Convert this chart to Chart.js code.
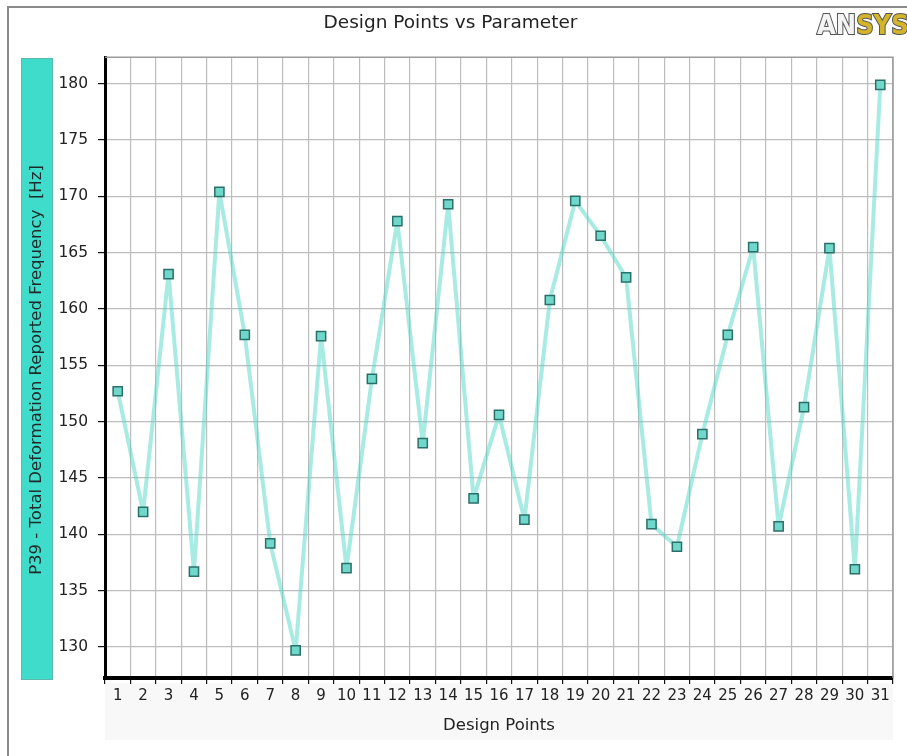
<!DOCTYPE html>
<html>
<head>
<meta charset="utf-8">
<script src="https://cdn.jsdelivr.net/npm/chart.js@4"></script>
<style>
  html, body { margin: 0; padding: 0; background: #fff; }
  #wrap { width: 907px; height: 756px; }
</style>
</head>
<body>
<div id="wrap"><canvas id="js--chart--1" width="907" height="756"></canvas></div>
<script>
const designPoints = [
    "1", "2", "3", "4", "5", "6", "7", "8", "9", "10",
    "11", "12", "13", "14", "15", "16", "17", "18", "19", "20",
    "21", "22", "23", "24", "25", "26", "27", "28", "29", "30", "31"
];

const frequency = [
    152.7, 142.0, 163.1, 136.7, 170.4, 157.7, 139.2, 129.7, 157.6, 137.0,
    153.8, 167.8, 148.1, 169.3, 143.2, 150.6, 141.3, 160.8, 169.6, 166.5,
    162.8, 140.9, 138.9, 148.9, 157.7, 165.5, 140.7, 151.3, 165.4, 136.9, 179.9
];

const yTitle = "P39 - Total Deformation Reported Frequency  [Hz]";
const chartTitle = "Design Points vs Parameter";

Chart.defaults.font.family = "'DejaVu Sans', sans-serif";
Chart.defaults.color = "#222";

// frame, y title box, logo, plot border
const decorations = {
    id: 'decorations',
    beforeDraw(chart) {
        const ctx = chart.ctx;
        const a = chart.chartArea;
        ctx.save();
        ctx.strokeStyle = '#8a8a8a';
        ctx.lineWidth = 2;
        ctx.strokeRect(8, 7, 920, 800);
        // faint band behind x labels
        ctx.fillStyle = '#f8f8f8';
        ctx.fillRect(a.left, a.bottom + 5, a.right - a.left, 57);
        ctx.restore();
    },
    afterDraw(chart) {
        const ctx = chart.ctx;
        const a = chart.chartArea;
        ctx.save();
        // top + right border of plot
        ctx.strokeStyle = '#9a9a9a';
        ctx.lineWidth = 1.5;
        ctx.beginPath();
        ctx.moveTo(a.left, a.top);
        ctx.lineTo(a.right, a.top);
        ctx.lineTo(a.right, a.bottom);
        ctx.stroke();

        // y title box
        ctx.fillStyle = '#3fdccb';
        ctx.fillRect(21, 58, 32, 622);
        ctx.strokeStyle = '#5fb8ae';
        ctx.lineWidth = 1;
        ctx.strokeRect(21.5, 58.5, 31, 621);
        ctx.translate(37, 370);
        ctx.rotate(-Math.PI / 2);
        ctx.fillStyle = '#1e2a2a';
        ctx.font = "16.5px 'DejaVu Sans'";
        ctx.textAlign = 'center';
        ctx.textBaseline = 'middle';
        ctx.fillText(yTitle, 0, 0);
        ctx.restore();

        // logo
        ctx.save();
        ctx.font = "bold 27px 'DejaVu Sans Condensed', 'DejaVu Sans'";
        ctx.textBaseline = 'alphabetic';
        ctx.lineWidth = 2;
        ctx.strokeStyle = '#555';
        ctx.fillStyle = '#f4f4f4';
        ctx.strokeText('AN', 817, 34);
        ctx.fillText('AN', 817, 34);
        const w = ctx.measureText('AN').width;
        ctx.fillStyle = '#d4b42a';
        ctx.strokeText('SYS', 817 + w, 34);
        ctx.fillText('SYS', 817 + w, 34);
        ctx.restore();
    }
};

const data = {
    labels: designPoints,
    datasets: [
        {
        label: yTitle,
        data: frequency,
        borderColor: 'rgba(80, 215, 200, 0.5)',
        borderWidth: 4,
        borderJoinStyle: 'round',
        pointStyle: 'rect',
        pointRadius: 6.5,
        pointBackgroundColor: '#6fd8cb',
        pointBorderColor: '#2b6f69',
        pointBorderWidth: 1.5,
        tension: 0
        }
    ]
};

const config = {
    type: 'line',
    data: data,
    plugins: [decorations],
    options: {
        responsive: false,
        animation: false,
        layout: { padding: { left: 8, right: 14, top: 0, bottom: 16 } },
        plugins: {
            legend: { display: false },
            tooltip: { enabled: false },
            title: {
                display: true,
                text: chartTitle,
                font: { size: 18.5, weight: 'normal' },
                color: '#222',
                padding: { top: 12, bottom: 23 }
            }
        },
        scales: {
            x: {
                offset: true,
                grid: { offset: true, color: '#bdbdbd', lineWidth: 1.2, tickLength: 6, tickColor: '#111' },
                border: { color: '#000', width: 4 },
                ticks: { font: { size: 15 }, color: '#222', padding: 3, maxRotation: 0, autoSkip: false },
                title: { display: true, text: 'Design Points', font: { size: 16.5 }, color: '#222', padding: { top: 0 } },
                afterFit(s) { s.height = 62; }
            },
            y: {
                min: 127.25,
                max: 182.35,
                grid: { color: '#bdbdbd', lineWidth: 1.2, tickLength: 7, tickColor: '#111' },
                border: { color: '#000', width: 3 },
                ticks: { stepSize: 5, font: { size: 15.5 }, color: '#222', padding: 10 },
                afterBuildTicks(s) { s.ticks = s.ticks.filter(t => t.value % 5 === 0); },
                afterFit(s) { s.width = 97; }
            }
        }
    }
};

new Chart(document.getElementById("js--chart--1"), config);
</script>
</body>
</html>
